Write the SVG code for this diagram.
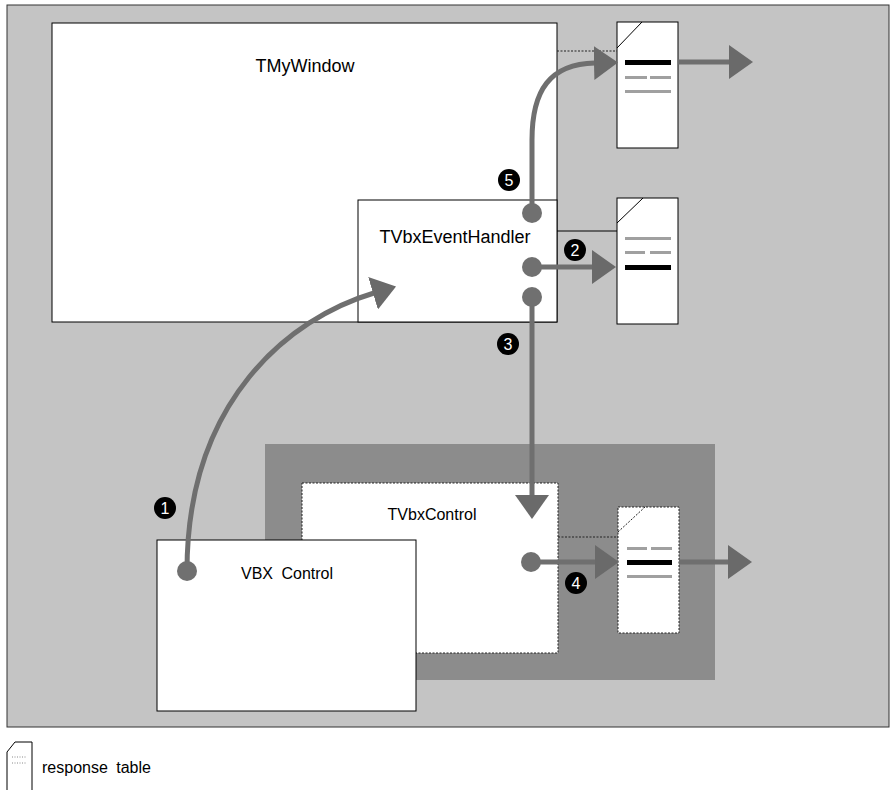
<svg xmlns="http://www.w3.org/2000/svg" width="892" height="790" viewBox="0 0 892 790">
<style>
  text { font-family: "Liberation Sans", Arial, sans-serif; fill: #000; }
  .lbl { font-size: 18px; text-anchor: middle; }
  .lbl16 { font-size: 16px; text-anchor: middle; }
  .box { fill: #fff; stroke: #000; stroke-width: 1; }
  .dbox { fill: #fff; stroke: #222; stroke-width: 1; stroke-dasharray: 2 1.5; }
  .conn { fill: none; stroke: #6f6f6f; stroke-width: 5; }
  .dot { fill: #707070; }
  .blk { fill: #000; }
  .gry { fill: #a0a0a0; }
  .num { fill: #000; }
  .numt { font-size: 16px; fill: #fff; text-anchor: middle; }
  .thin { stroke: #000; stroke-width: 1; fill: none; }
  .dash { stroke: #222; stroke-width: 1; fill: none; stroke-dasharray: 2 1.5; }
</style>
<defs>
  <marker id="ah" viewBox="0 0 24 34" markerWidth="24" markerHeight="34" refX="1" refY="17" orient="auto" markerUnits="userSpaceOnUse">
    <path d="M0,0 L24,17 L0,34 z" fill="#6a6a6a"/>
  </marker>
</defs>

<!-- background -->
<rect x="7" y="5" width="882" height="722" fill="#c4c4c4" stroke="#333" stroke-width="1"/>
<rect x="265" y="444" width="450" height="236" fill="#8c8c8c"/>

<g id="TMyWindow">
  <rect class="box" x="52" y="23" width="505" height="299"/>
  <text class="lbl" x="305" y="72">TMyWindow</text>
</g>

<g id="TVbxEventHandler">
  <rect class="box" x="358" y="200" width="199" height="122"/>
  <text class="lbl" x="455" y="243">TVbxEventHandler</text>
</g>

<g id="TVbxControl">
  <rect class="dbox" x="302" y="483" width="256" height="170"/>
  <text class="lbl16" x="432" y="520">TVbxControl</text>
</g>

<g id="VBXControl">
  <rect class="box" x="157" y="540" width="259" height="171"/>
  <text class="lbl16" x="287" y="579" word-spacing="4">VBX Control</text>
</g>

<g id="table1">
  <rect class="box" x="617" y="22" width="61" height="126"/>
  <line class="thin" x1="617" y1="48" x2="642" y2="22"/>
  <rect class="blk" x="625" y="60" width="46" height="5"/>
  <rect class="gry" x="625" y="76" width="22" height="3"/>
  <rect class="gry" x="650" y="76" width="21" height="3"/>
  <rect class="gry" x="625" y="90" width="46" height="3"/>
</g>

<g id="table2">
  <rect class="box" x="617" y="198" width="61" height="126"/>
  <line class="thin" x1="617" y1="223" x2="643" y2="198"/>
  <rect class="gry" x="625" y="237" width="46" height="3"/>
  <rect class="gry" x="625" y="251" width="20" height="3"/>
  <rect class="gry" x="650" y="251" width="21" height="3"/>
  <rect class="blk" x="625" y="265" width="46" height="5"/>
</g>

<g id="table3">
  <rect class="dbox" x="618" y="507" width="61" height="126"/>
  <line class="dash" x1="618" y1="532" x2="645" y2="507"/>
  <rect class="gry" x="627" y="547" width="20" height="3"/>
  <rect class="gry" x="651" y="547" width="21" height="3"/>
  <rect class="blk" x="627" y="560" width="45" height="5"/>
  <rect class="gry" x="627" y="575" width="45" height="3"/>
</g>

<g id="connectors">
  <line class="dash" x1="557" y1="51" x2="617" y2="51"/>
  <line class="thin" x1="557" y1="231" x2="617" y2="231"/>
  <line class="dash" x1="558" y1="537" x2="618" y2="537"/>

  <path class="conn" d="M187,571 C187,400 290,318 374,293" stroke="#7c7c7c" stroke-width="4.5" marker-end="url(#ah)"/>
  <path class="conn" d="M532,213 L532,140 C532,90 550,64 595,63" marker-end="url(#ah)"/>
  <line class="conn" x1="532" y1="267" x2="593" y2="267" marker-end="url(#ah)"/>
  <line class="conn" x1="532" y1="297" x2="532" y2="496" marker-end="url(#ah)"/>
  <line class="conn" x1="531" y1="562" x2="596" y2="562" marker-end="url(#ah)"/>
  <line class="conn" x1="678" y1="62" x2="730" y2="62" marker-end="url(#ah)"/>
  <line class="conn" x1="679" y1="562" x2="729" y2="562" marker-end="url(#ah)"/>

  <circle class="dot" cx="187" cy="571" r="10"/>
  <circle class="dot" cx="532" cy="213" r="10"/>
  <circle class="dot" cx="532" cy="267" r="10"/>
  <circle class="dot" cx="532" cy="297" r="10"/>
  <circle class="dot" cx="531" cy="562" r="10"/>
</g>

<g id="labels">
  <circle class="num" cx="165" cy="508" r="11"/>
  <text class="numt" x="165" y="514">1</text>
  <circle class="num" cx="575" cy="250" r="11"/>
  <text class="numt" x="575" y="256">2</text>
  <circle class="num" cx="508" cy="344" r="11"/>
  <text class="numt" x="508" y="350">3</text>
  <circle class="num" cx="576" cy="583" r="11"/>
  <text class="numt" x="576" y="589">4</text>
  <circle class="num" cx="509" cy="180" r="11"/>
  <text class="numt" x="509" y="186">5</text>
</g>

<g id="legend">
  <path d="M7,792 L7,752 L15,742 L32,742 L32,792" fill="#fff" stroke="#000" stroke-width="1"/>
  <line x1="12" y1="757" x2="27" y2="757" stroke="#888" stroke-width="1" stroke-dasharray="1 1.5"/>
  <line x1="12" y1="763" x2="27" y2="763" stroke="#888" stroke-width="1" stroke-dasharray="1 1.5"/>
  <text x="42" y="773" style="font-size:16px" word-spacing="4">response table</text>
</g>
</svg>
